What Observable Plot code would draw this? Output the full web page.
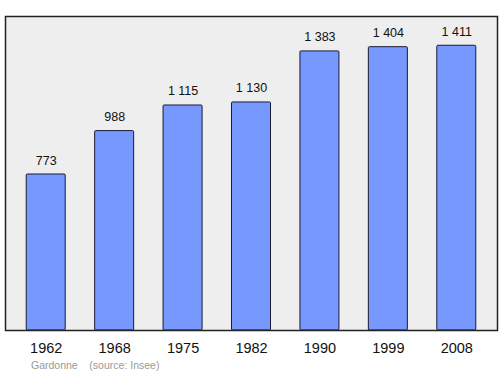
<!DOCTYPE html>
<html><head><meta charset="utf-8">
<script src="https://cdn.jsdelivr.net/npm/d3@7"></script>
<script src="https://cdn.jsdelivr.net/npm/@observablehq/plot@0.6"></script>
<style>
body{margin:0;background:#fff;font-family:"Liberation Sans",Arial,sans-serif;}
#chart svg{display:block;}
#cap{font-size:10.5px;color:#999;height:18px;line-height:14px;padding-top:2px;padding-left:31px;white-space:pre;}
</style></head><body>
<div id="chart"></div>
<div id="cap"></div>
<script>
const years = ["1962","1968","1975","1982","1990","1999","2008"];
const population = [773, 988, 1115, 1130, 1383, 1404, 1411];
const town = "Gardonne";
const source = "(source: Insee)";

const data = years.map((y,i)=>({year:y, pop:population[i]}));
const fmt = v => d3.format(",")(v).replace(/,/g," ");

const chart = Plot.plot({
  width:500, height:356,
  marginLeft:5, marginRight:3, marginTop:16, marginBottom:26,
  style:{fontFamily:'"Liberation Sans",Arial,sans-serif', background:"#fff"},
  x:{domain:years, paddingInner:0.43, paddingOuter:0.31, round:false, label:null},
  y:{domain:[0,1556], axis:null},
  marks:[
    Plot.frame({fill:"#eeeeee", stroke:"none"}),
    Plot.barY(data,{x:"year", y:"pop", fill:"#7799ff", stroke:"#1a1a33", strokeWidth:1, rx:1}),
    Plot.text(data,{x:"year", y:"pop", text:d=>fmt(d.pop), dy:-14, fontSize:12.5, fill:"#111"}),
    Plot.frame({stroke:"#222", strokeWidth:1.5}),
    Plot.axisX({tickSize:0, tickPadding:12, fontSize:14.5, color:"#111", label:null})
  ]
});
document.getElementById("chart").appendChild(chart);
document.getElementById("cap").textContent = town + "    " + source;
</script>
</body></html>
